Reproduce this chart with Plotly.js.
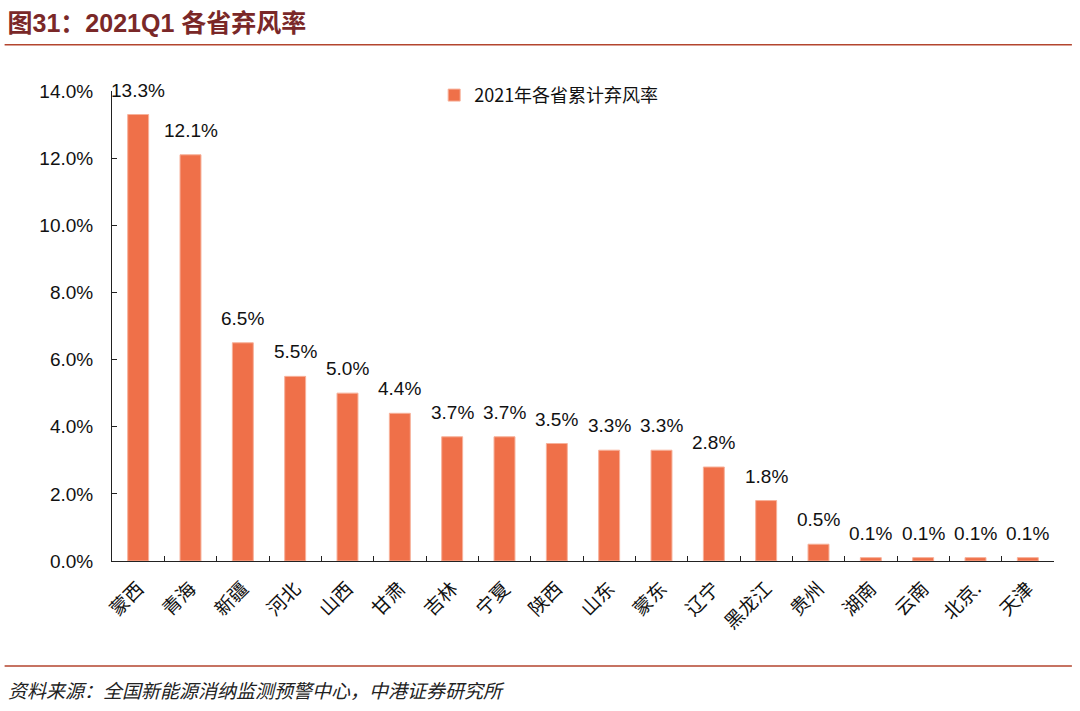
<!DOCTYPE html>
<html>
<head>
<meta charset="utf-8">
<script src="https://cdn.plot.ly/plotly-3.0.1.min.js"></script>
<style>html,body{margin:0;padding:0;background:#fff;}#chart{width:1080px;height:711px;}</style>
</head>
<body>
<div id="chart"></div>
<script>
const provinces = ["蒙西","青海","新疆","河北","山西","甘肃","吉林","宁夏","陕西","山东","蒙东","辽宁","黑龙江","贵州","湖南","云南","北京.","天津"];
const curtailRate = [13.3,12.1,6.5,5.5,5.0,4.4,3.7,3.7,3.5,3.3,3.3,2.8,1.8,0.5,0.1,0.1,0.1,0.1];
const yTicks = [0,2,4,6,8,10,12,14];
const yTickLabels = ["0.0%","2.0%","4.0%","6.0%","8.0%","10.0%","12.0%","14.0%"];
const seriesName = "2021年各省累计弃风率";
const chartTitle = "图31：2021Q1 各省弃风率";
const sourceText = "资料来源：全国新能源消纳监测预警中心，中港证券研究所";

const latin = "Liberation Sans, Arial, Noto Sans CJK SC, sans-serif";
const cjk = "Noto Sans CJK SC, sans-serif";

const trace = {
  type: "bar",
  x: provinces,
  y: curtailRate,
  name: seriesName,
  marker: {color: "#EF7049", line: {color: "#F7B19A", width: 1}},
  showlegend: true,
  hoverinfo: "none"
};

const annotations = provinces.map((p, i) => ({
  x: p, y: curtailRate[i], xref: "x", yref: "y",
  text: curtailRate[i].toFixed(1) + "%",
  showarrow: false, yanchor: "bottom", yshift: 12,
  font: {family: latin, size: 19, color: "#111"}
}));
annotations.push({
  xref: "paper", yref: "paper", x: -0.113, y: -0.274, xanchor: "left", yanchor: "middle",
  text: "<i>" + sourceText + "</i>", showarrow: false,
  font: {family: cjk, size: 19, color: "#222"}
});

const layout = {
  width: 1080, height: 711,
  margin: {l: 112, r: 26, t: 91, b: 150},
  paper_bgcolor: "#fff", plot_bgcolor: "#fff",
  title: {
    text: "<b>" + chartTitle + "</b>",
    x: 0.007, xanchor: "left", xref: "container",
    y: 0.968, yanchor: "middle", yref: "container",
    font: {family: "Liberation Sans, Noto Sans CJK SC, sans-serif", size: 25, color: "#7A2828"}
  },
  bargap: 0.6,
  xaxis: {
    type: "category",
    showline: true, linecolor: "#222", linewidth: 1,
    ticks: "inside", ticklen: 5, tickcolor: "#222",
    tickson: "boundaries",
    tickangle: -45,
    tickfont: {family: cjk, size: 19, color: "#111"},
    ticklabelstandoff: 8,
    showgrid: false, zeroline: false,
    range: [-0.5, 17.5]
  },
  yaxis: {
    range: [0, 14],
    tickvals: yTicks, ticktext: yTickLabels,
    showline: true, linecolor: "#222", linewidth: 1,
    ticks: "inside", ticklen: 5, tickcolor: "#222",
    tickfont: {family: latin, size: 19, color: "#111"},
    showgrid: false, zeroline: false,
    ticklabelstandoff: 14
  },
  showlegend: true,
  legend: {
    x: 0.342, y: 1.03, xanchor: "left", yanchor: "top",
    font: {family: cjk, size: 18, color: "#111"},
    bgcolor: "rgba(0,0,0,0)", itemwidth: 30
  },
  shapes: [
    {type: "line", xref: "paper", yref: "paper", x0: -0.114, x1: 1.019, y0: 1.0985, y1: 1.0985,
     line: {color: "#B3452E", width: 1.5}},
    {type: "line", xref: "paper", yref: "paper", x0: -0.114, x1: 1.019, y0: -0.2234, y1: -0.2234,
     line: {color: "#B3452E", width: 1.5}}
  ],
  annotations: annotations
};

Plotly.newPlot("chart", [trace], layout, {staticPlot: true, displayModeBar: false});
</script>
</body>
</html>
